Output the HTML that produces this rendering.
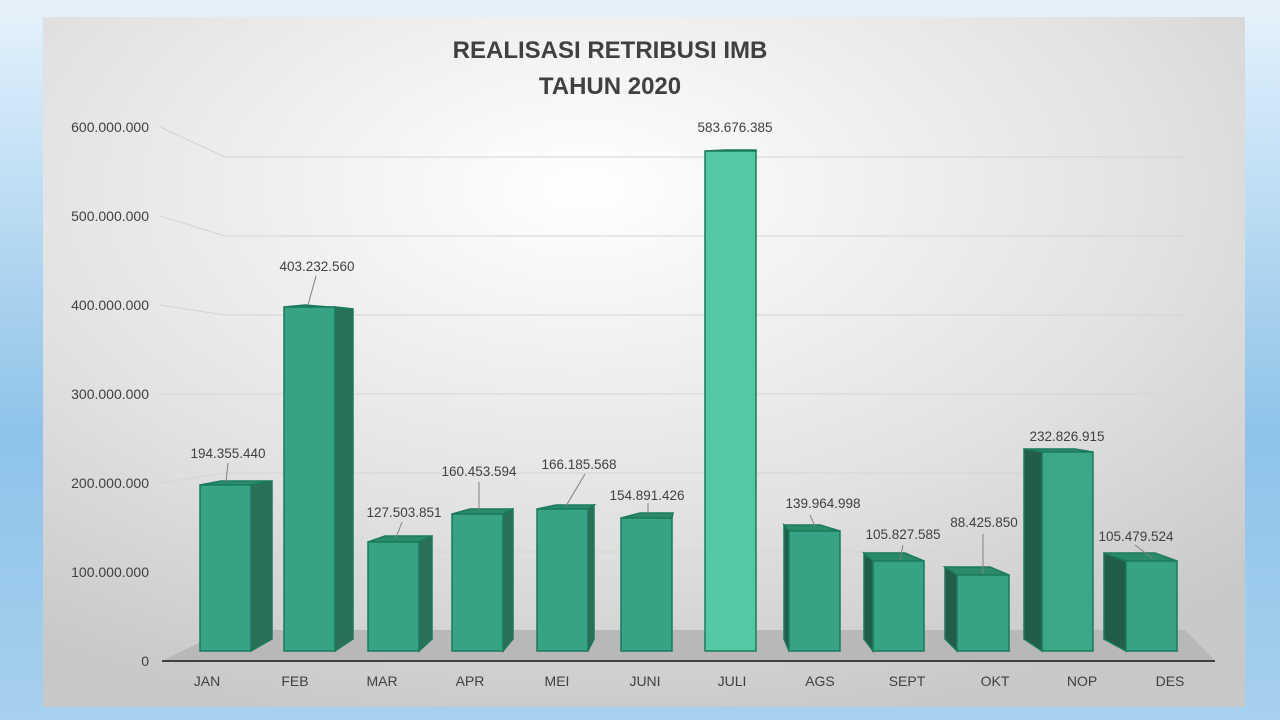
<!DOCTYPE html>
<html><head><style>
body{margin:0;width:1280px;height:720px;overflow:hidden;background:linear-gradient(#e6f2fb 0%,#b9dbf3 30%,#8ec3e8 60%,#a6d0ef 100%);font-family:"Liberation Sans",sans-serif;}
</style></head><body>
<svg width="1280" height="720" style="position:absolute;left:0;top:0">
<defs>
<radialGradient id="bg" cx="45%" cy="25%" r="80%">
<stop offset="0" stop-color="#ffffff"/><stop offset="0.6" stop-color="#e2e2e2"/><stop offset="1" stop-color="#c8c8c8"/></radialGradient>
</defs>
<rect x="43" y="17" width="1202" height="690" fill="url(#bg)"/>
<g stroke="#d4d4d4" stroke-width="1" fill="none">
<path d="M160 127 L225 157 H1185"/><path d="M160 216 L225 236 H1185"/><path d="M160 305 L225 315 H1185"/>
<path d="M160 394 L225 394 H1185"/><path d="M160 483 L225 473 H1185"/><path d="M160 572 L225 552 H1185"/>
</g>
<polygon points="225,630 1185,630 1215,661 162,661" fill="#b8b8b8"/>
<line x1="162" y1="661" x2="1215" y2="661" stroke="#404040" stroke-width="2"/>
<g font-size="14" fill="#404040" text-anchor="end">
<text x="149" y="132">600.000.000</text><text x="149" y="221">500.000.000</text><text x="149" y="310">400.000.000</text>
<text x="149" y="399">300.000.000</text><text x="149" y="488">200.000.000</text><text x="149" y="577">100.000.000</text><text x="149" y="666">0</text>
</g>
<text x="610" y="58" font-size="24" font-weight="bold" fill="#404040" text-anchor="middle">REALISASI RETRIBUSI IMB</text>
<text x="610" y="94" font-size="24" font-weight="bold" fill="#404040" text-anchor="middle">TAHUN 2020</text>
<g stroke="#1b7a5c" stroke-width="1.5">
<polygon points="251,485 272,481 272,639 251,651" fill="#2a7058"/>
<polygon points="335,307 353,309 353,639 335,651" fill="#2a7058"/>
<polygon points="419,542 432,536 432,639 419,651" fill="#2a7058"/>
<polygon points="503,514 513,509 513,639 503,651" fill="#2a7058"/>
<polygon points="588,509 594,505 594,639 588,651" fill="#2a7058"/>
<polygon points="784,525 789,531 789,651 784,639" fill="#235c49"/>
<polygon points="864,553 873,561 873,651 864,639" fill="#235c49"/>
<polygon points="945,567 957,575 957,651 945,639" fill="#235c49"/>
<polygon points="1024,449 1042,452 1042,651 1024,639" fill="#235c49"/>
<polygon points="1104,553 1126,561 1126,651 1104,639" fill="#235c49"/>
<polygon points="200,485 221,481 272,481 251,485" fill="#2a8a6a"/>
<polygon points="284,307 305,305 353,309 335,307" fill="#2a8a6a"/>
<polygon points="368,542 385,536 432,536 419,542" fill="#2a8a6a"/>
<polygon points="452,514 470,509 513,509 503,514" fill="#2a8a6a"/>
<polygon points="537,509 556,505 594,505 588,509" fill="#2a8a6a"/>
<polygon points="621,518 640,513 673,513 672,518" fill="#2a8a6a"/>
<polygon points="705,151 725,150 756,150 756,151" fill="#2a8a6a"/>
<polygon points="789,531 784,525 820,525 840,531" fill="#2a8a6a"/>
<polygon points="873,561 864,553 905,553 924,561" fill="#2a8a6a"/>
<polygon points="957,575 945,567 990,567 1009,575" fill="#2a8a6a"/>
<polygon points="1042,452 1024,449 1075,449 1093,452" fill="#2a8a6a"/>
<polygon points="1126,561 1104,553 1155,553 1177,561" fill="#2a8a6a"/>
<rect x="200" y="485" width="51" height="166" fill="#37a385"/>
<rect x="284" y="307" width="51" height="344" fill="#37a385"/>
<rect x="368" y="542" width="51" height="109" fill="#37a385"/>
<rect x="452" y="514" width="51" height="137" fill="#37a385"/>
<rect x="537" y="509" width="51" height="142" fill="#37a385"/>
<rect x="621" y="518" width="51" height="133" fill="#37a385"/>
<rect x="705" y="151" width="51" height="500" fill="#52c8a4"/>
<rect x="789" y="531" width="51" height="120" fill="#37a385"/>
<rect x="873" y="561" width="51" height="90" fill="#37a385"/>
<rect x="957" y="575" width="52" height="76" fill="#37a385"/>
<rect x="1042" y="452" width="51" height="199" fill="#3aa888"/>
<rect x="1126" y="561" width="51" height="90" fill="#37a385"/>
</g>
<g stroke="#808080" stroke-width="1">
<line x1="228" y1="463" x2="226" y2="482"/><line x1="316" y1="276" x2="308" y2="305"/><line x1="402" y1="522" x2="396" y2="538"/>
<line x1="479" y1="482" x2="479" y2="510"/><line x1="585" y1="474" x2="566" y2="506"/><line x1="648" y1="503" x2="648" y2="515"/>
<line x1="810" y1="515" x2="815" y2="526"/><line x1="903" y1="545" x2="900" y2="560"/><line x1="983" y1="534" x2="983" y2="574"/>
<line x1="1135" y1="545" x2="1152" y2="558"/>
</g>
<g font-size="13.5" fill="#404040" text-anchor="middle">
<text x="228" y="458">194.355.440</text><text x="317" y="271">403.232.560</text><text x="404" y="517">127.503.851</text>
<text x="479" y="476">160.453.594</text><text x="579" y="469">166.185.568</text><text x="647" y="500">154.891.426</text>
<text x="735" y="132">583.676.385</text><text x="823" y="508">139.964.998</text><text x="903" y="539">105.827.585</text>
<text x="984" y="527">88.425.850</text><text x="1067" y="441">232.826.915</text><text x="1136" y="541">105.479.524</text>
</g>
<g font-size="14" fill="#404040" text-anchor="middle">
<text x="207" y="686">JAN</text><text x="295" y="686">FEB</text><text x="382" y="686">MAR</text><text x="470" y="686">APR</text>
<text x="557" y="686">MEI</text><text x="645" y="686">JUNI</text><text x="732" y="686">JULI</text><text x="820" y="686">AGS</text>
<text x="907" y="686">SEPT</text><text x="995" y="686">OKT</text><text x="1082" y="686">NOP</text><text x="1170" y="686">DES</text>
</g>
</svg>
</body></html>
